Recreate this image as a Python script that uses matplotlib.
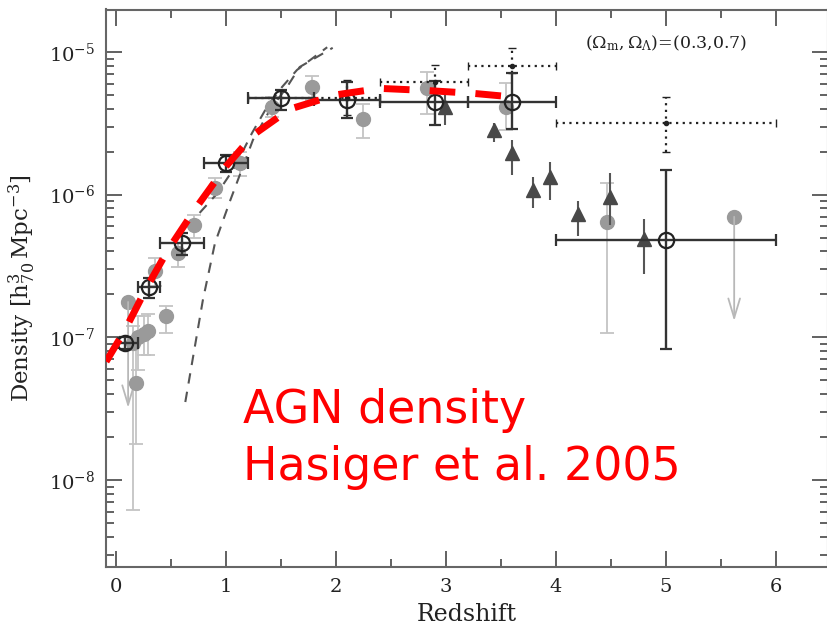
import numpy as np
import matplotlib.pyplot as plt
from matplotlib.ticker import MultipleLocator, LogLocator, NullFormatter

plt.rcParams['font.family'] = 'DejaVu Serif'
plt.rcParams['mathtext.fontset'] = 'dejavuserif'

# open circles, solid error bars
z_bin = [0.08, 0.3, 0.6, 1.0, 1.5, 2.1, 2.9, 3.6, 5.0]
z_bin_lo = [0.015, 0.2, 0.4, 0.8, 1.2, 1.8, 2.4, 3.2, 4.0]
z_bin_hi = [0.2, 0.4, 0.8, 1.2, 1.8, 2.4, 3.2, 4.0, 6.0]
rho_bin = [9.1e-8, 2.25e-7, 4.6e-7, 1.67e-6, 4.76e-6, 4.6e-6, 4.45e-6, 4.45e-6, 4.8e-7]
rho_bin_lo = [8.3e-8, 1.9e-7, 3.8e-7, 1.45e-6, 3.9e-6, 3.45e-6, 3.1e-6, 2.9e-6, 8.3e-8]
rho_bin_hi = [1.0e-7, 2.6e-7, 5.4e-7, 1.9e-6, 5.4e-6, 6.2e-6, 6.3e-6, 7.1e-6, 1.5e-6]

# dotted crosses
z_dot = [2.1, 2.9, 3.6, 5.0]
z_dot_lo = [1.2, 2.4, 3.2, 4.0]
z_dot_hi = [2.4, 3.2, 4.0, 6.0]
rho_dot = [4.76e-6, 6.2e-6, 8.0e-6, 3.2e-6]
rho_dot_lo = [3.6e-6, 5.4e-6, 7.1e-6, 2.0e-6]
rho_dot_hi = [6.4e-6, 8.1e-6, 1.07e-5, 4.8e-6]

# grey filled points
z_grey = [0.15, 0.18, 0.2, 0.25, 0.29, 0.35, 0.45, 0.56, 0.71, 0.9, 1.13, 1.42, 1.78, 2.25, 2.83, 3.55, 4.46]
rho_grey = [9.1e-8, 4.8e-8, 1.0e-7, 1.05e-7, 1.1e-7, 2.9e-7, 1.41e-7, 3.9e-7, 6.1e-7, 1.11e-6, 1.67e-6, 4.1e-6, 5.7e-6, 3.4e-6, 5.6e-6, 4.1e-6, 6.4e-7]
rho_grey_lo = [6.2e-9, 1.8e-8, 5.9e-8, 7.5e-8, 7.5e-8, 2.3e-7, 1.08e-7, 3.1e-7, 5.0e-7, 9.5e-7, 1.35e-6, 3.5e-6, 4.6e-6, 2.5e-6, 3.7e-6, 2.84e-6, 1.07e-7]
rho_grey_hi = [1.2e-7, 1.0e-7, 1.4e-7, 1.4e-7, 1.45e-7, 3.6e-7, 1.67e-7, 4.6e-7, 7.2e-7, 1.3e-6, 2.0e-6, 4.8e-6, 6.8e-6, 4.3e-6, 7.2e-6, 6.1e-6, 1.2e-6]

# grey upper limits
z_ul = [0.11, 5.62]
rho_ul = [1.77e-7, 7.0e-7]
rho_ul_to = [3.2e-8, 1.3e-7]

# dark triangles
z_tri = [2.99, 3.44, 3.6, 3.79, 3.95, 4.2, 4.49, 4.8]
rho_tri = [4.1e-6, 2.84e-6, 1.95e-6, 1.08e-6, 1.33e-6, 7.3e-7, 9.6e-7, 4.9e-7]
rho_tri_lo = [3.1e-6, 2.35e-6, 1.37e-6, 8.1e-7, 9.2e-7, 5.1e-7, 6.1e-7, 2.8e-7]
rho_tri_hi = [5.0e-6, 3.2e-6, 2.4e-6, 1.33e-6, 1.7e-6, 9.0e-7, 1.42e-6, 6.8e-7]

# model curves (grey dashed)
z_modA = [0.63, 0.79, 0.9, 1.04, 1.245, 1.4, 1.555, 1.67, 1.97]
rho_modA = [3.52e-8, 1.83e-7, 4.59e-7, 9.18e-7, 2.42e-6, 3.93e-6, 5.69e-6, 7.85e-6, 1.07e-5]
z_modB = [0.76, 0.92, 1.08, 1.236, 1.373, 1.51, 1.645, 1.92]
rho_modB = [7.45e-7, 1.02e-6, 1.56e-6, 2.70e-6, 4.12e-6, 5.69e-6, 7.48e-6, 1.08e-5]

# red fit
z_red = [-0.09, 0.08, 0.28, 0.47, 0.72, 1.0, 1.25, 1.58, 2.0, 2.4, 2.83, 3.25, 3.67]
rho_red = [6.76e-8, 1.12e-7, 2.24e-7, 4.07e-7, 7.94e-7, 1.58e-6, 2.63e-6, 3.98e-6, 5.01e-6, 5.56e-6, 5.37e-6, 5.13e-6, 4.79e-6]

fig = plt.figure(figsize=(8.27, 6.3), dpi=100)
ax = fig.add_axes([106/827, 1-567/630, 722/827, 557.5/630])
ax.set_yscale('log')

def asym(v, lo, hi):
    v, lo, hi = np.array(v), np.array(lo), np.array(hi)
    return [v - lo, hi - v]

# grey points
ax.errorbar(z_grey, rho_grey, yerr=asym(rho_grey, rho_grey_lo, rho_grey_hi), fmt='o',
            color='#9a9a9a', ms=10, ecolor='#c4c4c4', elinewidth=1.3, capsize=5, capthick=1.3, zorder=2)
ax.plot(z_ul, rho_ul, 'o', color='#9a9a9a', ms=10, zorder=2)
for z, r0, r1 in zip(z_ul, rho_ul, rho_ul_to):
    ax.annotate('', xy=(z, r1), xytext=(z, r0),
                arrowprops=dict(arrowstyle='->,head_length=1.0,head_width=0.3', color='#b8b8b8',
                                lw=1.3, mutation_scale=14, shrinkA=0, shrinkB=0), zorder=2)

# triangles
ax.errorbar(z_tri, rho_tri, yerr=asym(rho_tri, rho_tri_lo, rho_tri_hi), fmt='^',
            color='#484848', ms=10, ecolor='#555555', elinewidth=1.5, capsize=0, zorder=3)

# model curves
ax.plot(z_modA, rho_modA, color='#555555', lw=1.5, dashes=(5, 4), zorder=2)
ax.plot(z_modB, rho_modB, color='#555555', lw=1.5, dashes=(5, 4), zorder=2)

# dotted crosses
eb = ax.errorbar(z_dot, rho_dot, xerr=asym(z_dot, z_dot_lo, z_dot_hi),
                 yerr=asym(rho_dot, rho_dot_lo, rho_dot_hi), fmt='o', color='#222222', ms=3,
                 elinewidth=1.6, capsize=3, capthick=1.0, zorder=4)
for c in eb[2]:
    c.set_linestyle((0, (1, 2)))

# open circles
ax.errorbar(z_bin, rho_bin, xerr=asym(z_bin, z_bin_lo, z_bin_hi),
            yerr=asym(rho_bin, rho_bin_lo, rho_bin_hi), fmt='o', mfc='none', mec='#222222',
            mew=1.6, ms=11, ecolor='#333333', elinewidth=1.7, capsize=4, capthick=1.7, zorder=4)

# red fit
ax.plot(z_red, rho_red, color='red', lw=5, dashes=(3.7, 2.9), dash_capstyle='butt', zorder=5)

ax.set_xlim(-0.091, 6.473)
ax.set_ylim(10**-8.61, 10**-4.702)
ax.xaxis.set_major_locator(MultipleLocator(1))
ax.xaxis.set_minor_locator(MultipleLocator(0.5))
ax.yaxis.set_minor_locator(LogLocator(base=10, subs=np.arange(2, 10)))
ax.yaxis.set_minor_formatter(NullFormatter())
ax.tick_params(which='both', direction='in', top=True, right=True, color='#555555', width=1.3,
               labelsize=14, labelcolor='#222222')
ax.tick_params(which='major', length=11.5, pad=8)
ax.tick_params(which='minor', length=5.8)
for s in ax.spines.values():
    s.set_color('#666666')
    s.set_linewidth(1.5)

ax.set_xlabel('Redshift', fontsize=17, color='#222222', labelpad=5)
ax.set_ylabel(r'Density $[\mathrm{h^3_{70}\,Mpc^{-3}}]$', fontsize=16.5, color='#222222', labelpad=8)

fig.text(585/827, 1-43/630, r'$(\Omega_{\rm m},\Omega_\Lambda)$=(0.3,0.7)', fontsize=12.5,
         color='#222222', va='center', ha='left')

fig.text(243/827, 1-423/630, 'AGN density', color='red', fontsize=33, family='DejaVu Sans', va='baseline')
fig.text(243/827, 1-480/630, 'Hasiger et al. 2005', color='red', fontsize=33, family='DejaVu Sans', va='baseline')

fig.savefig('out.png', dpi=100)
